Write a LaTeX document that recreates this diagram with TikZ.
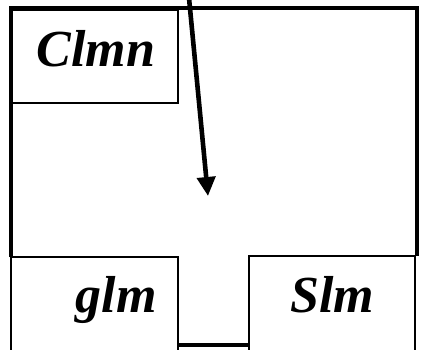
\documentclass[tikz,border=0pt]{standalone}
\usepackage{fontspec}
\setmainfont{Liberation Serif}
\usetikzlibrary{arrows.meta}
\begin{document}
\begin{tikzpicture}[x=1pt,y=-1pt,
  thickline/.style={line width=4pt},
  thinbox/.style={draw,line width=1.5pt},
  lbl/.style={font=\fontsize{52}{52}\selectfont\bfseries\itshape, inner sep=0pt, anchor=base}]
\useasboundingbox (0,0) rectangle (421,349);
% outer thick frame
\draw[thickline] (11,257) -- (11,8) -- (417,8) -- (417,256);
\draw[thickline] (178,345) -- (249,345);
% boxes
\draw[thinbox] (10,10) rectangle (178,103);
\draw[thinbox] (11,257) rectangle (178,352);
\draw[thinbox] (249,256) rectangle (415,352);
% labels
\node[lbl] (clmn) at (96,66) {Clmn};
\node[lbl] (glm) at (116,312) {glm};
\node[lbl] (slm) at (332,312) {Slm};
% arrow
\coordinate (a0) at (189,-2);
\coordinate (a1) at (208,196);
\draw[line width=4.6pt,-{Triangle[length=19pt,width=18pt]}] (a0) -- (a1);
\end{tikzpicture}
\end{document}
